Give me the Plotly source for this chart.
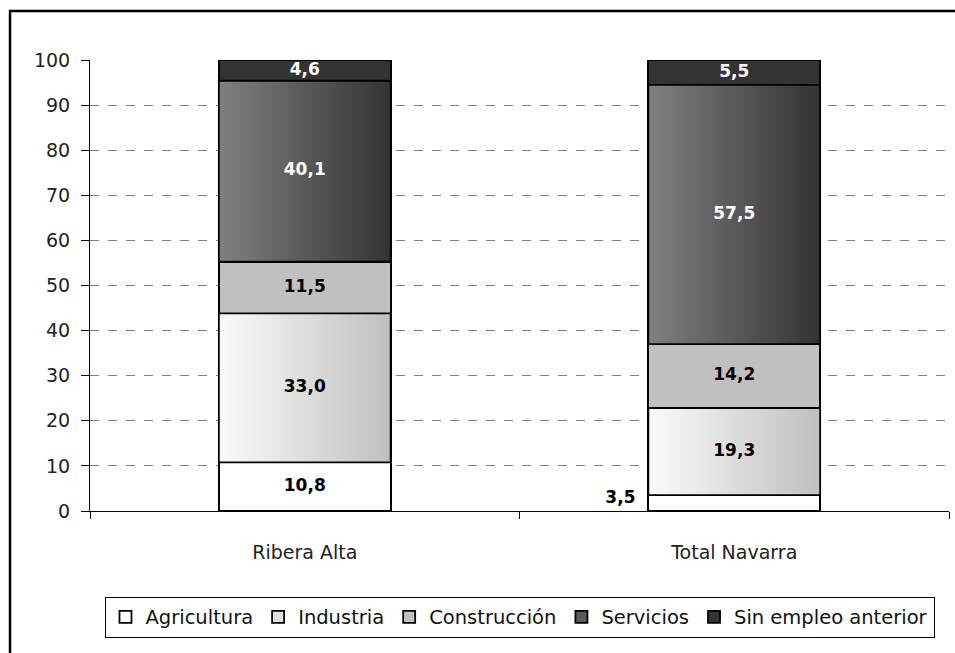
import plotly.graph_objects as go

categories = ["Ribera Alta", "Total Navarra"]
series_names = ["Agricultura", "Industria", "Construcción", "Servicios", "Sin empleo anterior"]
agricultura = [10.8, 3.5]
industria = [33.0, 19.3]
construccion = [11.5, 14.2]
servicios = [40.1, 57.5]
sin_empleo = [4.6, 5.5]
y_ticks = list(range(0, 101, 10))

values = [agricultura, industria, construccion, servicios, sin_empleo]
solid = ["#ffffff", "#e0e0e0", "#c0c0c0", "#5a5a5a", "#333333"]
grad = [None, ("#fbfbfb", "#bfbfbf"), None, ("#808080", "#333333"), None]
text_col = ["black", "black", "black", "white", "white"]

FONT = "DejaVu Sans"
BW = 0.4
xs = list(range(len(categories)))

fig = go.Figure()
for name, vals, col in zip(series_names, values, solid):
    fig.add_trace(go.Bar(
        x=xs, y=vals, name=name, width=BW,
        marker=dict(color=col, line=dict(color="black", width=1.8)),
        hoverinfo="skip",
    ))

# bases for stacking
bases = []
acc = [0.0] * len(categories)
for vals in values:
    bases.append(list(acc))
    acc = [a + v for a, v in zip(acc, vals)]

# gradient overlays
for si, g in enumerate(grad):
    if g is None:
        continue
    for ci in xs:
        b = bases[si][ci]
        t = b + values[si][ci]
        fig.add_trace(go.Scatter(
            x=[ci - BW / 2, ci + BW / 2, ci + BW / 2, ci - BW / 2, ci - BW / 2],
            y=[b, b, t, t, b],
            mode="lines", fill="toself",
            line=dict(color="black", width=1.8),
            fillgradient=dict(type="horizontal", colorscale=[[0, g[0]], [1, g[1]]]),
            showlegend=False, hoverinfo="skip",
        ))

# labels
for si, vals in enumerate(values):
    for ci in xs:
        v = vals[ci]
        label = f"{v:.1f}".replace(".", ",")
        ymid = bases[si][ci] + v / 2
        small = v < 4
        fig.add_trace(go.Scatter(
            x=[ci - BW / 2 - 0.03 if small else ci], y=[ymid + (1.0 if small else 0)],
            mode="text", text=[label],
            textposition="middle left" if small else "middle center",
            textfont=dict(family=FONT, size=17, color="black" if small else text_col[si], weight="bold"),
            showlegend=False, hoverinfo="skip",
        ))

fig.update_layout(
    width=955, height=653,
    margin=dict(l=90, r=6, t=60, b=142),
    barmode="stack",
    plot_bgcolor="white", paper_bgcolor="white",
    font=dict(family=FONT, size=19, color="black"),
    showlegend=True,
    legend=dict(
        orientation="h", x=0.5, xanchor="center", y=-0.19, yanchor="top",
        bordercolor="black", borderwidth=1, font=dict(size=19.5, family=FONT, color="#111111"),
        traceorder="normal", itemwidth=30,
    ),
    xaxis=dict(
        range=[-0.5, 1.5], tickvals=xs, ticktext=categories, ticks="",
        showline=True, linecolor="black", linewidth=1, showgrid=False, zeroline=False,
        tickfont=dict(size=19, color="#222222"), ticklabelstandoff=24,
        minor=dict(tickvals=[-0.5, 0.5, 1.5], ticks="outside", ticklen=7, tickcolor="black", showgrid=False),
    ),
    yaxis=dict(
        range=[0, 100], tickvals=y_ticks, ticks="outside", ticklen=8, tickcolor="black",
        showline=True, linecolor="black", linewidth=1, zeroline=False,
        showgrid=True, gridcolor="#808080", griddash="dash", gridwidth=1,
        tickfont=dict(size=19, color="#222222"), ticklabelstandoff=7,
    ),
    shapes=[dict(type="rect", xref="paper", yref="paper", x0=-0.0931, x1=1.3, y0=-0.6, y1=1.1086,
                 line=dict(color="black", width=2.5), fillcolor="rgba(0,0,0,0)", layer="below")],
)

fig.write_html("out.html", config={"displayModeBar": False},
               post_script="document.body.style.margin='0px';")
